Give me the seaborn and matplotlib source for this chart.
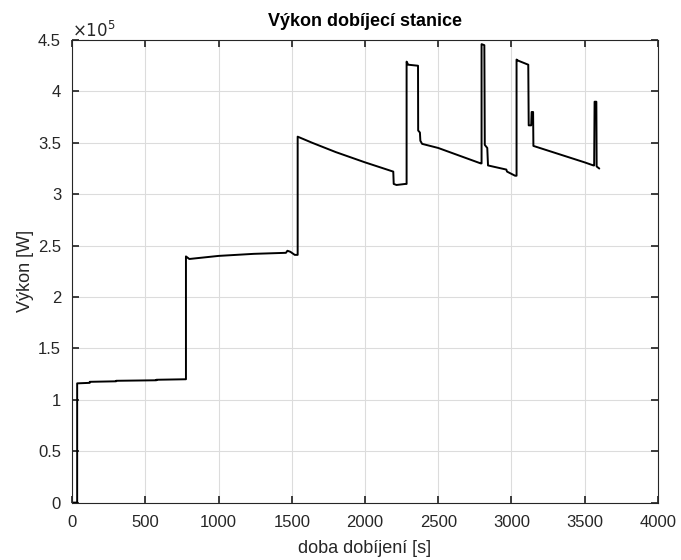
import matplotlib
matplotlib.use("Agg")
import matplotlib.pyplot as plt
import matplotlib.ticker as mticker
import pandas as pd
import seaborn as sns

# charging station power vs time (step-like trace)
time_s = [0, 34, 34, 120, 120, 300, 300, 575, 575, 777, 777, 800, 1000, 1240,
          1460, 1470, 1490, 1520, 1540, 1540, 1640, 1800, 2000, 2193, 2196,
          2215, 2275, 2284, 2284, 2295, 2362, 2363, 2375, 2378, 2390, 2500,
          2790, 2796, 2796, 2815, 2818, 2835, 2840, 2965, 2970, 3025, 3035,
          3035, 3045, 3080, 3115, 3118, 3135, 3138, 3148, 3150, 3500, 3560,
          3565, 3568, 3580, 3582, 3600]
power_w = [0, 0, 1.16e5, 1.165e5, 1.175e5, 1.18e5, 1.185e5, 1.19e5, 1.195e5,
           1.20e5, 2.395e5, 2.37e5, 2.40e5, 2.42e5, 2.43e5, 2.45e5, 2.44e5,
           2.41e5, 2.41e5, 3.56e5, 3.50e5, 3.41e5, 3.31e5, 3.22e5, 3.10e5,
           3.09e5, 3.10e5, 3.10e5, 4.29e5, 4.26e5, 4.25e5, 3.62e5, 3.60e5,
           3.52e5, 3.49e5, 3.45e5, 3.30e5, 3.30e5, 4.46e5, 4.45e5, 3.48e5,
           3.45e5, 3.28e5, 3.24e5, 3.22e5, 3.18e5, 3.18e5, 4.31e5, 4.30e5,
           4.28e5, 4.26e5, 3.67e5, 3.67e5, 3.80e5, 3.80e5, 3.47e5, 3.31e5,
           3.28e5, 3.28e5, 3.90e5, 3.90e5, 3.27e5, 3.25e5]

x_ticks = [0, 500, 1000, 1500, 2000, 2500, 3000, 3500, 4000]
y_ticks = [0, 0.5e5, 1e5, 1.5e5, 2e5, 2.5e5, 3e5, 3.5e5, 4e5, 4.5e5]

sns.set_theme(style="ticks")
plt.rcParams["font.family"] = ["Liberation Sans", "DejaVu Sans"]

df = pd.DataFrame({"t": time_s, "p": power_w})

fig = plt.figure(figsize=(6.81, 5.60), dpi=100)
ax = fig.add_axes([0.106, 0.1025, 0.860, 0.826])
sns.lineplot(data=df, x="t", y="p", sort=False, estimator=None,
             color="black", linewidth=1.4, ax=ax)

dark = "#262626"
ax.set_xlim(0, 4000)
ax.set_ylim(0, 4.5e5)
ax.set_xticks(x_ticks)
ax.set_yticks(y_ticks)
ax.yaxis.set_major_formatter(mticker.FuncFormatter(lambda v, _: f"{v / 1e5:g}"))
ax.grid(True, color="#dcdcdc", linewidth=0.8)
ax.set_axisbelow(True)
for s in ax.spines.values():
    s.set_visible(True)
    s.set_color(dark)
    s.set_linewidth(0.8)
ax.tick_params(direction="in", top=True, right=True, length=5,
               colors=dark, labelsize=12, labelcolor=dark)
ax.tick_params(axis="x", pad=9)
ax.tick_params(axis="y", pad=8)

ax.text(0.0, 1.0, r"$\times10^5$", transform=ax.transAxes,
        fontsize=12, color=dark, ha="left", va="bottom")
ax.set_title("Výkon dobíjecí stanice", fontsize=13, fontweight="bold",
             color="black", pad=10)
ax.set_xlabel("doba dobíjení [s]", fontsize=13, color=dark, labelpad=7)
ax.set_ylabel("Výkon [W]", fontsize=13, color=dark, labelpad=3)

fig.savefig("out.png", dpi=100)
plt.close(fig)
